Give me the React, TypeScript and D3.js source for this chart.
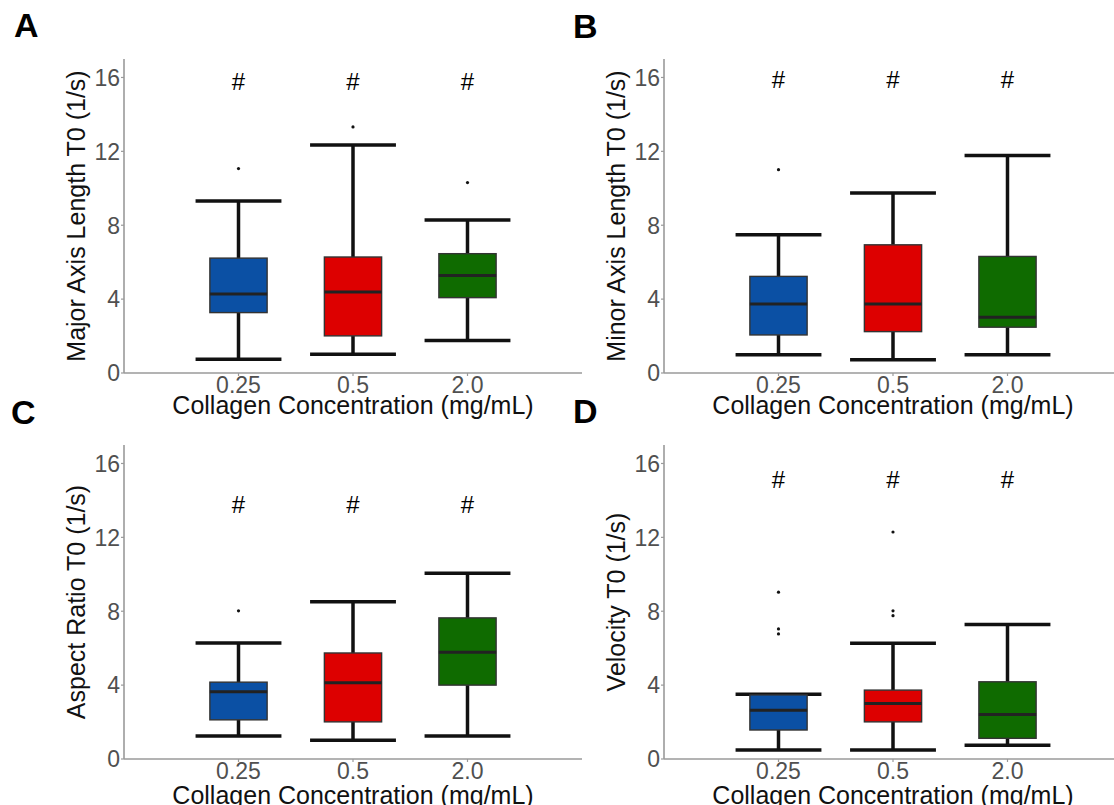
import React from "react";
import * as d3 from "d3";

// ---------- data ----------
const categories = ["0.25", "0.5", "2.0"];
const yTicks = [0, 4, 8, 12, 16];
const xTitle = "Collagen Concentration (mg/mL)";

// Panel A – Major Axis Length
const majorLow = [0.74, 1.02, 1.76];
const majorQ1 = [3.27, 2.01, 4.08];
const majorMed = [4.28, 4.39, 5.28];
const majorQ3 = [6.22, 6.28, 6.46];
const majorHigh = [9.31, 12.34, 8.29];
const majorOutliers = [[11.07], [13.32], [10.31]];
const majorSig = 15.8;

// Panel B – Minor Axis Length
const minorLow = [0.99, 0.72, 0.99];
const minorQ1 = [2.06, 2.24, 2.48];
const minorMed = [3.74, 3.74, 3.02];
const minorQ3 = [5.23, 6.94, 6.31];
const minorHigh = [7.49, 9.75, 11.77];
const minorOutliers = [[11.01], [], []];
const minorSig = 15.9;

// Panel C – Aspect Ratio
const aspectLow = [1.25, 1.01, 1.25];
const aspectQ1 = [2.12, 2.01, 4.0];
const aspectMed = [3.64, 4.13, 5.78];
const aspectQ3 = [4.16, 5.74, 7.64];
const aspectHigh = [6.28, 8.52, 10.05];
const aspectOutliers = [[8.02], [], []];
const aspectSig = 13.8;

// Panel D – Velocity
const velocityLow = [0.49, 0.49, 0.74];
const velocityQ1 = [1.57, 2.01, 1.12];
const velocityMed = [2.64, 3.0, 2.41];
const velocityQ3 = [3.47, 3.73, 4.18];
const velocityHigh = [3.51, 6.26, 7.28];
const velocityOutliers = [[9.03, 7.04, 6.77], [12.29, 8.02, 7.76], []];
const velocitySig = 15.15;

const fills = ["#0b50a4", "#dd0000", "#0f6b00"];

type PanelDef = {
  letter: string;
  yLabel: string;
  low: number[];
  q1: number[];
  med: number[];
  q3: number[];
  high: number[];
  outliers: number[][];
  sig: number;
  x0: number;
  y0: number;
  lx: number;
  ly: number;
  titleOff: number;
};

const panels: PanelDef[] = [
  { letter: "A", yLabel: "Major Axis Length T0 (1/s)", low: majorLow, q1: majorQ1, med: majorMed, q3: majorQ3, high: majorHigh, outliers: majorOutliers, sig: majorSig, x0: 124, y0: 59, lx: 14, ly: 37, titleOff: 41 },
  { letter: "B", yLabel: "Minor Axis Length T0 (1/s)", low: minorLow, q1: minorQ1, med: minorMed, q3: minorQ3, high: minorHigh, outliers: minorOutliers, sig: minorSig, x0: 664, y0: 59, lx: 573, ly: 38, titleOff: 41 },
  { letter: "C", yLabel: "Aspect Ratio T0 (1/s)", low: aspectLow, q1: aspectQ1, med: aspectMed, q3: aspectQ3, high: aspectHigh, outliers: aspectOutliers, sig: aspectSig, x0: 124, y0: 445, lx: 11, ly: 424, titleOff: 45 },
  { letter: "D", yLabel: "Velocity T0 (1/s)", low: velocityLow, q1: velocityQ1, med: velocityMed, q3: velocityQ3, high: velocityHigh, outliers: velocityOutliers, sig: velocitySig, x0: 664, y0: 445, lx: 573, ly: 423, titleOff: 45 },
];

const PW = 458;
const PH = 314;
const FONT = "'Liberation Sans', Arial, Helvetica, sans-serif";

function Panel({ p }: { p: PanelDef }) {
  const x = d3.scalePoint<string>().domain(categories).range([p.x0, p.x0 + PW]).padding(1);
  const y = d3.scaleLinear().domain([0, 17]).range([p.y0 + PH, p.y0]);
  const step = x.step();
  const boxW = step * 0.5;
  const capW = step * 0.75;
  const base = y(0);
  return (
    <g>
      <text x={p.lx} y={p.ly} fontFamily={FONT} fontWeight="bold" fontSize={34} fill="#000">{p.letter}</text>
      {/* axes */}
      <line x1={p.x0} x2={p.x0} y1={y(17)} y2={base} stroke="#9a9a9a" strokeWidth={1.6} />
      <line x1={p.x0} x2={p.x0 + PW} y1={base} y2={base} stroke="#9a9a9a" strokeWidth={1.6} />
      {yTicks.map((t) => (
        <g key={t}>
          <line x1={p.x0 - 3} x2={p.x0} y1={y(t)} y2={y(t)} stroke="#9a9a9a" strokeWidth={1.2} />
          <text x={p.x0 - 4} y={y(t)} dy="0.36em" textAnchor="end" fontFamily={FONT} fontSize={23} fill="#505050">{t}</text>
        </g>
      ))}
      {categories.map((c) => (
        <g key={c}>
          <line x1={x(c)} x2={x(c)} y1={base} y2={base + 3} stroke="#9a9a9a" strokeWidth={1.2} />
          <text x={x(c)} y={base + 20} textAnchor="middle" fontFamily={FONT} fontSize={23} fill="#505050">{c}</text>
        </g>
      ))}
      <text x={p.x0 + PW / 2} y={base + p.titleOff} textAnchor="middle" fontFamily={FONT} fontSize={25} fill="#111">{xTitle}</text>
      <text transform={`translate(${p.x0 - 39},${p.y0 + PH / 2}) rotate(-90)`} textAnchor="middle" fontFamily={FONT} fontSize={25} fill="#111">{p.yLabel}</text>
      {/* boxes */}
      {categories.map((c, i) => {
        const cx = x(c) as number;
        return (
          <g key={c}>
            <line x1={cx} x2={cx} y1={y(p.high[i])} y2={y(p.q3[i])} stroke="#111" strokeWidth={3.5} />
            <line x1={cx} x2={cx} y1={y(p.q1[i])} y2={y(p.low[i])} stroke="#111" strokeWidth={3.5} />
            <line x1={cx - capW / 2} x2={cx + capW / 2} y1={y(p.high[i])} y2={y(p.high[i])} stroke="#111" strokeWidth={3.5} />
            <line x1={cx - capW / 2} x2={cx + capW / 2} y1={y(p.low[i])} y2={y(p.low[i])} stroke="#111" strokeWidth={3.5} />
            <rect x={cx - boxW / 2} y={y(p.q3[i])} width={boxW} height={y(p.q1[i]) - y(p.q3[i])} fill={fills[i]} stroke="#333" strokeWidth={1.4} />
            <line x1={cx - boxW / 2} x2={cx + boxW / 2} y1={y(p.med[i])} y2={y(p.med[i])} stroke="#222" strokeWidth={3} />
            {p.outliers[i].map((o, k) => (
              <circle key={k} cx={cx} cy={y(o)} r={1.6} fill="#111" />
            ))}
            <text x={cx} y={y(p.sig)} dy="0.35em" textAnchor="middle" fontFamily={FONT} fontSize={24} fill="#000">#</text>
          </g>
        );
      })}
    </g>
  );
}

export default function App() {
  return (
    <div style={{ position: "fixed", left: 0, top: 0, width: 1114, height: 805, overflow: "hidden", background: "#fff" }}>
      <svg width={1114} height={805} style={{ display: "block" }}>
        <rect width={1114} height={805} fill="#fff" />
        {panels.map((p) => (
          <Panel key={p.letter} p={p} />
        ))}
      </svg>
    </div>
  );
}
